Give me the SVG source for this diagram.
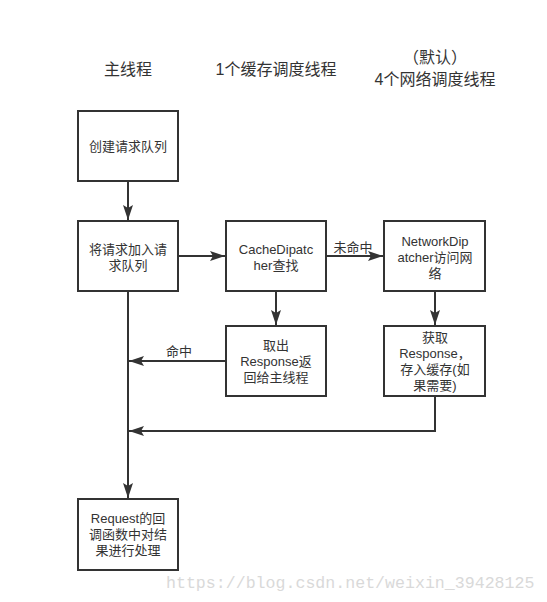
<svg xmlns="http://www.w3.org/2000/svg" width="547" height="602" viewBox="0 0 547 602">
<style>
.box{fill:#fff;stroke:#333;stroke-width:2}
.t{font-family:"Liberation Sans","Noto Sans CJK SC",sans-serif;font-size:13px;fill:#333;text-anchor:middle}
.h{font-family:"Liberation Sans","Noto Sans CJK SC",sans-serif;font-size:16px;fill:#333;text-anchor:middle}
.c{fill:none;stroke:#333;stroke-width:2}
.wm{font-family:"Liberation Mono",monospace;font-size:16.6px;fill:#d9d9d9}
</style>
<defs>
<marker id="ah" markerUnits="userSpaceOnUse" markerWidth="16" markerHeight="12" refX="15" refY="5" orient="auto">
<path d="M0,0 L15,5 L0,10 L3,5 Z" fill="#333"/>
</marker>
</defs>
<rect width="547" height="602" fill="#fff"/>
<g id="headers">
<text class="h" x="128" y="75">主线程</text>
<text class="h" x="276" y="75">1个缓存调度线程</text>
<text class="h" x="435" y="63"><tspan x="435">（默认）</tspan><tspan x="435" dy="22">4个网络调度线程</tspan></text>
</g>
<g id="connectors">
<path class="c" d="M128,181 L128,220" marker-end="url(#ah)"/>
<path class="c" d="M128,291 L128,498" marker-end="url(#ah)"/>
<path class="c" d="M178,256 L225,256" marker-end="url(#ah)"/>
<path class="c" d="M326,256 L383,256" marker-end="url(#ah)"/>
<path class="c" d="M276,291 L276,325" marker-end="url(#ah)"/>
<path class="c" d="M435,291 L435,325" marker-end="url(#ah)"/>
<path class="c" d="M226,361 L129,361" marker-end="url(#ah)"/>
<path class="c" d="M435,396 L435,431 L129,431" marker-end="url(#ah)"/>
<text class="t" x="353" y="252">未命中</text>
<text class="t" x="179" y="356">命中</text>
</g>
<g id="n1">
<rect class="box" x="78" y="111" width="100" height="70"/>
<text class="t" x="128" y="151">创建请求队列</text>
</g>
<g id="n2">
<rect class="box" x="78" y="221" width="100" height="70"/>
<text class="t" x="128" y="254"><tspan x="128">将请求加入请</tspan><tspan x="128" dy="16">求队列</tspan></text>
</g>
<g id="n3">
<rect class="box" x="226" y="221" width="100" height="70"/>
<text class="t" x="276" y="254"><tspan x="276">CacheDipatc</tspan><tspan x="276" dy="16">her查找</tspan></text>
</g>
<g id="n4">
<rect class="box" x="384" y="221" width="101" height="70"/>
<text class="t" x="435" y="246"><tspan x="435">NetworkDip</tspan><tspan x="435" dy="16">atcher访问网</tspan><tspan x="435" dy="16">络</tspan></text>
</g>
<g id="n5">
<rect class="box" x="226" y="326" width="100" height="70"/>
<text class="t" x="276" y="350"><tspan x="276">取出</tspan><tspan x="276" dy="16">Response返</tspan><tspan x="276" dy="16">回给主线程</tspan></text>
</g>
<g id="n6">
<rect class="box" x="384" y="326" width="101" height="70"/>
<text class="t" x="435" y="342"><tspan x="435">获取</tspan><tspan x="435" dy="16">Response，</tspan><tspan x="435" dy="16">存入缓存(如</tspan><tspan x="435" dy="16">果需要)</tspan></text>
</g>
<g id="n7">
<rect class="box" x="78" y="499" width="100" height="71"/>
<text class="t" x="128" y="523"><tspan x="128">Request的回</tspan><tspan x="128" dy="16">调函数中对结</tspan><tspan x="128" dy="16">果进行处理</tspan></text>
</g>
<text class="wm" x="166" y="588">https://blog.csdn.net/weixin_39428125</text>
</svg>
